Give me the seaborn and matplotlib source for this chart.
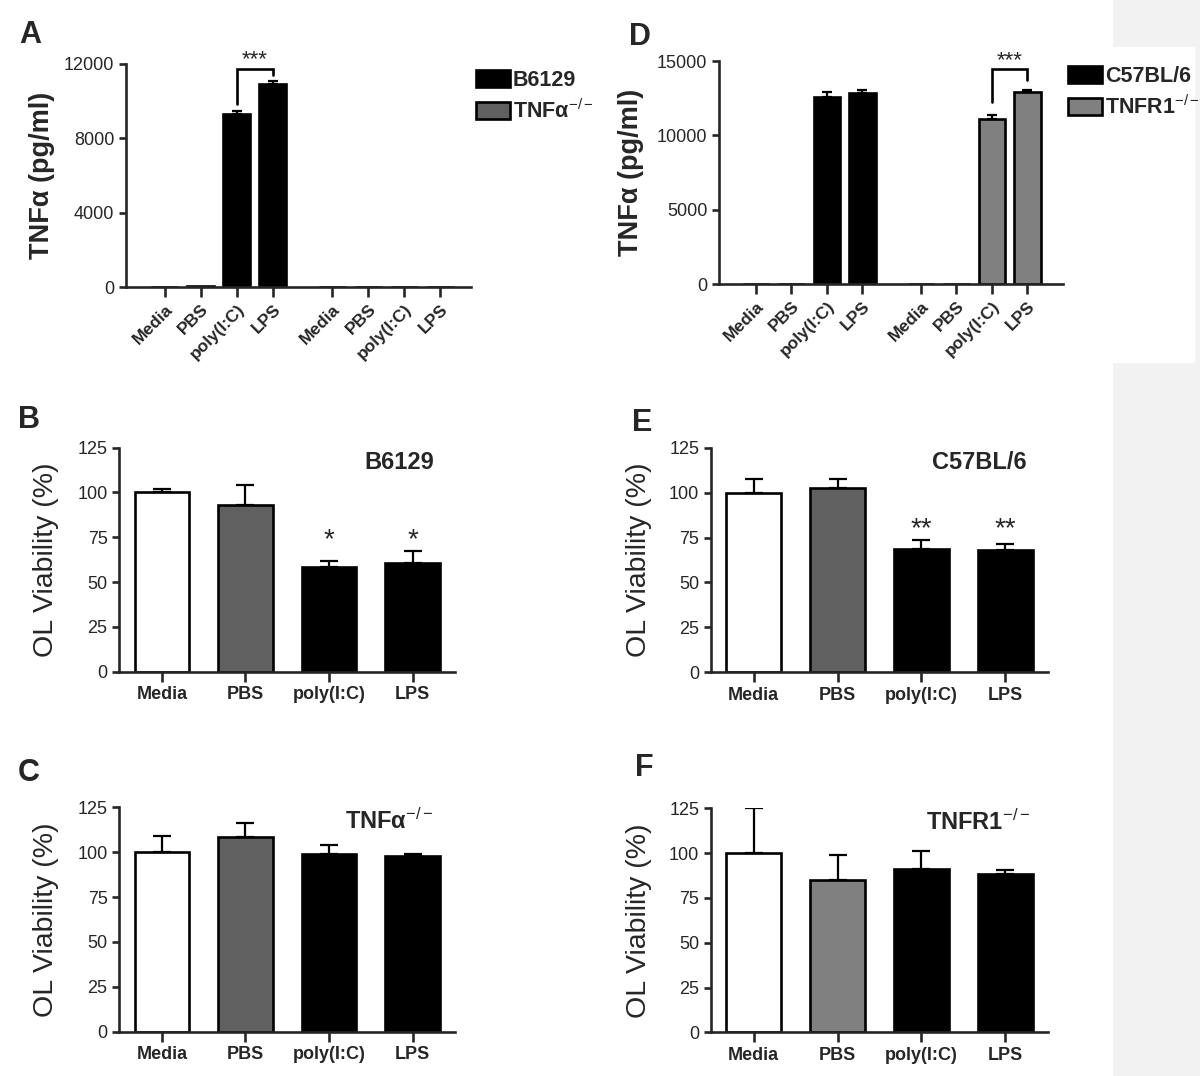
import numpy as np
import pandas as pd
import matplotlib
matplotlib.use("Agg")
import matplotlib.pyplot as plt
from matplotlib.patches import Patch, Rectangle
import seaborn as sns

# -------------------------
# datos
# -------------------------
cats = ["Media", "PBS", "poly(I:C)", "LPS"]

# TNFa (pg/ml), paneles A y D
tnf_b6129 = [0, 80, 9300, 10900]
tnf_b6129_err = [0, 0, 160, 180]
tnf_tnfko = [0, 0, 0, 0]
tnf_tnfko_err = [0, 0, 0, 0]

tnf_c57 = [0, 0, 12600, 12850]
tnf_c57_err = [0, 0, 290, 200]
tnf_tnfr1 = [0, 0, 11100, 12900]
tnf_tnfr1_err = [0, 0, 300, 120]

# OL viability (%), paneles B, C, E, F
viab_b6129 = [100, 93, 58.6, 60.5]
viab_b6129_err = [2, 11, 3.3, 7]
viab_tnfko = [100, 108.3, 99, 97.9]
viab_tnfko_err = [9, 8, 5, 1.3]
viab_c57 = [100, 102.4, 68.6, 68.2]
viab_c57_err = [7.5, 5, 5, 3]
viab_tnfr1 = [100, 85, 91, 88.3]
viab_tnfr1_err = [25, 14, 10, 2.3]

stars_b = ["", "", "*", "*"]
stars_e = ["", "", "**", "**"]

# -------------------------
# estilo
# -------------------------
sns.set_style("ticks")
plt.rcParams["font.family"] = ["Liberation Sans", "DejaVu Sans"]
plt.rcParams["mathtext.fontset"] = "custom"
plt.rcParams["mathtext.rm"] = "Liberation Sans"
plt.rcParams["mathtext.it"] = "Liberation Sans:italic"
plt.rcParams["mathtext.bf"] = "Liberation Sans:bold"

W, H = 1200, 1076
fig = plt.figure(figsize=(W / 100, H / 100), dpi=100)

# franja gris a la derecha
fig.patches.append(Rectangle((1113 / W, 0), 87 / W, 1, transform=fig.transFigure,
                             facecolor="#f2f2f2", edgecolor="none", zorder=-10))
fig.patches.append(Rectangle((1113 / W, 1 - 363 / H), 82 / W, 316 / H, transform=fig.transFigure,
                             facecolor="white", edgecolor="none", zorder=-9))

LW = 1.9


def axes_px(left, right, top, bottom):
    return fig.add_axes([left / W, 1 - bottom / H, (right - left) / W, (bottom - top) / H])


def style(ax):
    sns.despine(ax=ax)
    for s in ["left", "bottom"]:
        ax.spines[s].set_linewidth(LW)
    ax.tick_params(axis="both", direction="out", width=LW, length=5, labelsize=13)
    ax.tick_params(axis="x", length=7)
    ax.set_xlabel("")


def err_bars(ax, xs, vals, errs, cap):
    xs = np.asarray(xs, float)
    vals = np.asarray(vals, float)
    errs = np.asarray(errs, float)
    m = errs > 0
    ax.errorbar(xs[m], vals[m], yerr=[np.zeros(m.sum()), errs[m]], fmt="none",
                ecolor="black", elinewidth=1.6, capsize=cap, capthick=1.6, zorder=3)


def tnf_panel(ax, v1, e1, v2, e2, c1, c2, ymax, step, xlim, bracket):
    pos = list(range(4)) + [4.65 + i for i in range(4)]
    strains = ["a"] * 4 + ["b"] * 4
    df = pd.DataFrame({"pos": pos, "tnf": v1 + v2, "strain": strains})
    sns.barplot(data=df, x="pos", y="tnf", hue="strain", palette={"a": c1, "b": c2},
                native_scale=True, dodge=False, width=0.75, edgecolor="black",
                linewidth=LW, errorbar=None, legend=False, ax=ax)
    err_bars(ax, pos, v1 + v2, e1 + e2, 3.5)
    style(ax)
    ax.set_ylim(0, ymax)
    ax.set_yticks(np.arange(0, ymax + 1, step))
    ax.set_xlim(*xlim)
    ax.set_xticks(pos)
    ax.set_xticklabels(cats * 2, rotation=45, ha="right", rotation_mode="anchor",
                       fontweight="bold", fontsize=12.5)
    ax.set_ylabel("TNFα (pg/ml)", fontsize=19.5, fontweight="bold")

    # corchete de significancia entre poly(I:C) y LPS del grupo indicado
    i, j, gap, rise = bracket
    vals = v1 + v2
    errs = e1 + e2
    t1 = vals[i] + errs[i]
    t2 = vals[j] + errs[j]
    top = max(t1, t2) + rise
    ax.plot([pos[i], pos[i], pos[j], pos[j]], [t1 + gap, top, top, t2 + gap * 0.8],
            color="black", lw=LW, clip_on=False, solid_joinstyle="miter")
    ax.text((pos[i] + pos[j]) / 2, top + 0.04 * ymax, "***", ha="center", va="center",
            fontsize=16, clip_on=False)
    return ax


def viab_panel(ax, vals, errs, colors, title, title_x, stars=None):
    sns.barplot(x=cats, y=vals, hue=cats, palette=dict(zip(cats, colors)),
                width=0.65, edgecolor="black", linewidth=LW, errorbar=None,
                legend=False, ax=ax)
    err_bars(ax, range(4), vals, errs, 6.5)
    style(ax)
    ax.set_ylim(0, 125)
    ax.set_yticks(range(0, 126, 25))
    ax.set_xticks(range(4))
    ax.set_xticklabels(cats, fontweight="bold", fontsize=13)
    ax.set_ylabel("OL Viability (%)", fontsize=20.5)
    ax.text(title_x, 117, title, ha="center", va="center", fontsize=17, fontweight="bold")
    if stars:
        ys = [v + e for v, e, s in zip(vals, errs, stars) if s]
        ystar = max(ys) + 6
        for k, s in enumerate(stars):
            if s:
                ax.text(k, ystar, s, ha="center", va="center", fontsize=20)


# -------------------------
# paneles
# -------------------------
axA = axes_px(126, 471, 64, 287)
tnf_panel(axA, tnf_b6129, tnf_b6129_err, tnf_tnfko, tnf_tnfko_err,
          "black", "#606060", 12000, 4000, (-1.08, 8.5), (2, 3, 380, 660))
axA.yaxis.set_label_coords(-0.205, 0.5)

axD = axes_px(719, 1063, 61, 284)
tnf_panel(axD, tnf_c57, tnf_c57_err, tnf_tnfr1, tnf_tnfr1_err,
          "black", "#808080", 15000, 5000, (-1.04, 8.65), (6, 7, 850, 1410))
axD.yaxis.set_label_coords(-0.218, 0.5)

axB = axes_px(119.4, 455, 447.7, 671.7)
viab_panel(axB, viab_b6129, viab_b6129_err, ["white", "#606060", "black", "black"],
           "B6129", 2.84, stars_b)
axB.yaxis.set_label_coords(-0.18, 0.5)

axC = axes_px(119.4, 455, 807.3, 1031.7)
viab_panel(axC, viab_tnfko, viab_tnfko_err, ["white", "#606060", "black", "black"],
           r"TNFα$^{-/-}$", 2.72)
axC.yaxis.set_label_coords(-0.18, 0.5)

axE = axes_px(711, 1048, 447.7, 672.3)
viab_panel(axE, viab_c57, viab_c57_err, ["white", "#606060", "black", "black"],
           "C57BL/6", 2.69, stars_e)
axE.yaxis.set_label_coords(-0.176, 0.5)

axF = axes_px(711, 1048, 808.3, 1032.3)
viab_panel(axF, viab_tnfr1, viab_tnfr1_err, ["white", "#808080", "black", "black"],
           r"TNFR1$^{-/-}$", 2.67)
axF.yaxis.set_label_coords(-0.176, 0.5)

# leyendas de A y D
for ax, labels, grey, x0, y0 in [
    (axA, ["B6129", r"TNFα$^{-/-}$"], "#606060", 476, 70),
    (axD, ["C57BL/6", r"TNFR1$^{-/-}$"], "#808080", 1068, 66),
]:
    handles = [Patch(facecolor="black", edgecolor="black", linewidth=LW),
               Patch(facecolor=grey, edgecolor="black", linewidth=LW)]
    fig.legend(handles, labels, loc="upper left", bbox_to_anchor=(x0 / W, 1 - y0 / H),
               frameon=False, borderpad=0, borderaxespad=0, handlelength=1.6,
               handleheight=0.85, handletextpad=0.12, labelspacing=0.4,
               prop={"size": 15.5, "weight": "bold"})

# letras de panel
for letter, x, y in [("A", 30, 35), ("D", 640, 37), ("B", 29, 420),
                     ("E", 642, 423), ("C", 29, 773), ("F", 644, 768)]:
    fig.text(x / W, 1 - y / H, letter, ha="center", va="center", fontsize=22, fontweight="bold")

fig.savefig("out.png", dpi=100)
